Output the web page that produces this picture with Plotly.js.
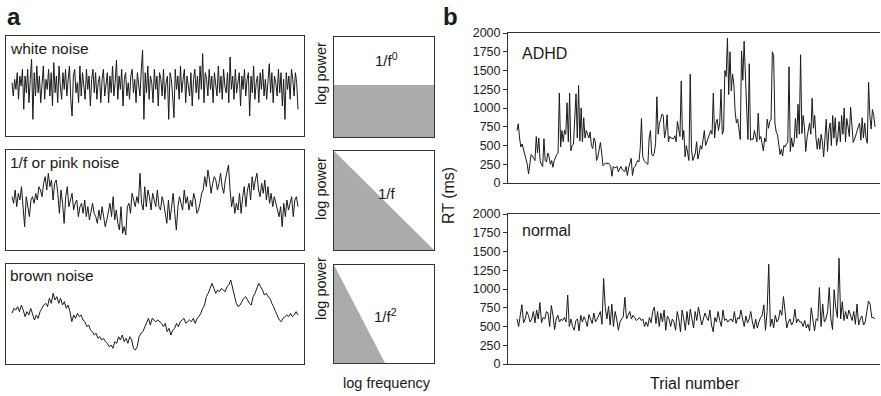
<!DOCTYPE html>
<html><head><meta charset="utf-8">
<script src="https://cdn.plot.ly/plotly-3.0.1.min.js"></script>
<style>html,body{margin:0;padding:0;background:#fff}#chart{width:881px;height:396px}</style>
</head><body><div id="chart"></div>
<script>
// ---------- data ----------
const whiteNoise = [1,-3,2,-1,4,-4,3,0,5,-7, 3,-2,5,-5,2,8,-10,4,-3,6, -2,3,-5,1,6,-4,2,-1,5,-3,
  4,-6,7,-2,3,-5,6,0,-4,4, -1,5,-3,2,6,-4,-9,3,5,-2, 1,-5,6,-3,4,0,-4,5,-1,3, -6,2,5,-2,4,-4,1,3,-5,2,
  5,-3,0,4,-5,3,-2,6,-3,1, 7.7,-4,3,-1,5,-6,2,4,-3,1, -4,3,5,-2,2,-5,4,0,-3,5, 10.7,-10,4,-2,6,-4,3,1,-5,5,
  -1,3,-6,4,2,-3,5,-4,1,3, -10,4,2,-3,-9.5,5,-1,3,-4,6, -2,2,5,-5,3,0,-3,4,-6,2, 5,-2,3,-4,6,-1,9.7,-5,4,2,
  -3,5,-1,3,-5,4,1,-3,6,-2, 3,-4,5,0,-2,4,-5,8.7,-1,3, -4,5,-2,2,4,-6,3,-1,5,-3, 2,4,-9,3,-2,6,-4,1,3,-5,
  4,-1,5,-3,2,-4,3,6.7,-2,4, -5,3,1,-3,5,-2,4,-6,2,-10, 4,-1,3,-4,5,2,-3,4,1,-7];
const pinkNoise = [1,-1,3,-2,2,0,4,-3,-8,1,-2,-5,0,1,-1,2,0,4,3,1,5,7,3,8,4,6,0,5,6,2,-4,3,-1,-7,1,4,-2,0,2,-3,
  -1,0,-5,-2,-1,-4,0,-5,-2,-6,-3,-1,-4,-5,-7,-3,-6,-2,-5,-8,-6,-3,-1,-5,1,-6,-3,-7,-9,-2,-10,-8,-10.5,-2,-1,-4,2,0,-2,1,
  -1,8,-1,-3,4,-2,3,1,-3,2,0,-2,3,-2,-3,1,-1,-4,-7,0,-6,-2,2,-4,-9,-2,1,-1,-3,3,-1,1,-3,0,-2,2,0,-4,-3,-1,
  2,3,7,4,9,6,2,5,7,6,3,5,8,4,2,6,8,10.5,3,-2,1,-4,-1,-3,2,-4,1,4,-2,3,5,0,7,3,6,8,3,1,5,2,
  6,0,4,-1,2,-2,1,-1,-3,-5,-2,-8,-1,-5,0,-3,-1,1,-5,0,1,-2];
const brownNoise = [0.2,1.7,1.2,2.2,0.7,2.7,1.2,-0.8,0.7,-0.3,1.7,0.2,-1.8,-0.3,-1.3,0.7,1.7,2.7,3.2,2.2,
  4.7,3.2,6.2,4.2,5.2,3.2,4.7,2.7,3.7,1.7,2.7,0.7,-2.3,-0.3,-1.3,0.2,-0.8,-0.3,-1.8,-2.3,
  -3.8,-3.3,-4.8,-5.3,-6.3,-5.8,-7.3,-6.8,-7.8,-7.3,-8.3,-8.8,-9.8,-9.3,-10.3,-8.3,-8.8,-6.8,-7.8,-6.3,
  -8.3,-7.3,-8.8,-6.8,-7.8,-10.3,-10.8,-9.8,-6.8,-5.8,-5.3,-3.8,-2.8,-1.3,-3.3,-1.3,-1.8,-2.3,-1.8,-2.3,
  -2.8,-3.8,-2.8,-5.3,-4.3,-6.3,-4.8,-4.3,-2.8,-3.8,-2.3,-1.8,-1.3,-2.8,-2.3,-1.8,-2.3,-1.3,-2.8,-1.3,
  -0.8,0.2,1.7,2.7,5.2,6.2,7.7,9.2,7.7,6.2,7.2,6.7,7.7,7.2,6.7,8.2,8.7,10.2,7.7,6.2,
  3.2,2.2,2.7,3.7,4.7,5.2,4.2,3.2,2.7,5.2,6.2,7.7,9.2,8.2,7.2,5.7,6.2,5.2,4.7,3.2,
  2.2,0.7,-0.8,-1.8,-2.3,-1.3,-0.8,-0.3,-0.8,0.2,-0.8,-0.3,0.7,-0.3];
const spectrumX = [0, 1];
const whiteSpectrum = [0.52, 0.52];
const pinkSpectrum = [1, 0];
const brownSpectrumX = [0, 0.51];
const brownSpectrum = [1, 0];
const adhdRT = [700,790,600,480,520,450,380,300,250,120,250,380,360,320,300,620,400,600,300,250,220,590,300,280,400,350,250,300,210,300,
  350,380,400,1200,480,700,550,700,650,1070,550,1200,430,500,520,800,1190,600,1300,560,1000,550,870,600,700,650,600,680,500,460,
  600,550,300,350,450,540,400,230,250,270,250,270,250,220,90,220,200,210,220,150,200,220,180,170,150,220,100,200,250,330,
  100,200,220,260,300,280,450,860,350,300,270,260,250,600,700,380,360,400,530,1150,650,800,850,920,900,600,700,910,550,620,
  600,600,590,630,550,820,700,620,1360,580,700,350,500,400,300,1450,450,300,350,400,550,320,400,500,450,600,700,500,550,600,
  650,700,650,1200,600,800,850,700,800,1250,650,700,1500,1420,1930,1180,1750,1230,1450,1320,950,800,850,700,580,1760,1370,1890,1300,1000,
  580,1590,570,590,580,700,620,550,930,580,620,500,430,600,550,850,730,820,850,1750,1700,800,680,650,500,380,450,360,500,480,
  520,540,1550,420,600,480,550,860,600,1050,650,1710,660,900,750,420,600,700,800,650,1130,730,900,600,450,600,450,650,550,350,
  600,850,420,700,800,500,900,600,870,500,600,820,550,900,650,1000,550,860,750,620,1010,700,540,580,650,700,750,800,570,870,
  600,800,600,530,1340,900,720,980,900,750];
const normalRT = [600,500,650,790,550,600,700,650,560,600,700,550,720,600,820,550,620,600,700,680,500,780,650,460,600,650,560,600,580,620,
  560,920,500,600,500,450,580,600,440,650,560,630,580,500,660,600,540,680,560,600,650,700,530,1140,750,600,770,520,800,500,
  700,600,450,560,600,630,890,600,650,700,600,650,620,580,600,620,580,600,500,560,500,620,550,700,760,540,700,500,680,560,
  720,450,640,600,500,600,560,450,700,600,430,720,600,450,700,520,730,600,480,700,580,760,650,520,600,680,620,580,720,520,
  430,620,560,700,580,500,720,580,600,560,590,600,560,700,540,620,600,720,600,500,640,550,600,700,560,470,600,480,560,620,
  650,790,450,700,1330,500,600,480,650,560,600,720,650,900,700,480,560,600,520,560,730,550,600,560,560,500,580,480,530,440,
  750,560,440,600,580,1020,500,800,560,600,700,1020,600,460,990,750,620,1410,600,830,580,700,600,720,650,580,700,530,800,520,
  600,640,520,560,700,840,800,620,620,600];
const rtTicks = [0,250,500,750,1000,1250,1500,1750,2000];
const noiseLabels = ['white noise', '1/f or pink noise', 'brown noise'];
const spectrumLabels = ['1/f<sup>0</sup>', '1/f', '1/f<sup>2</sup>'];
const panelLabels = ['a', 'b'];
const groupLabels = ['ADHD', 'normal'];

// ---------- layout helpers ----------
const W = 881, H = 396;
const px = v => v / W;
const py = v => 1 - v / H;
const FONT = 'Liberation Sans, Arial, Helvetica, sans-serif';
const idx = a => a.map((_, i) => i);
const padRange = (n, l, r, span) => [-(n - 1) * l / span, (n - 1) * (1 + r / span)];

const lineC = '#1a1a1a';
const traces = [];
const noises = [whiteNoise, pinkNoise, brownNoise];
noises.forEach((d, k) => {
  traces.push({x: idx(d), y: d, type: 'scatter', mode: 'lines', line: {color: lineC, width: 1},
    xaxis: 'x' + (k + 1), yaxis: 'y' + (k + 1), hoverinfo: 'skip'});
});
const specs = [[spectrumX, whiteSpectrum], [spectrumX, pinkSpectrum], [brownSpectrumX, brownSpectrum]];
specs.forEach((s, k) => {
  traces.push({x: s[0], y: s[1], type: 'scatter', mode: 'lines', fill: 'tozeroy', fillcolor: '#ababab',
    line: {color: '#ababab', width: 0}, xaxis: 'x' + (k + 4), yaxis: 'y' + (k + 4), hoverinfo: 'skip'});
});
traces.push({x: idx(adhdRT), y: adhdRT, type: 'scatter', mode: 'lines', line: {color: lineC, width: 1},
  xaxis: 'x7', yaxis: 'y7'});
traces.push({x: idx(normalRT), y: normalRT, type: 'scatter', mode: 'lines', line: {color: lineC, width: 1},
  xaxis: 'x8', yaxis: 'y8'});

const boxAxis = (domain, range) => ({domain, range, showline: true, mirror: true, linecolor: '#333', linewidth: 1,
  showgrid: false, zeroline: false, ticks: '', showticklabels: false, fixedrange: true});

const layout = {
  width: W, height: H, margin: {l: 0, r: 0, t: 0, b: 0}, showlegend: false,
  paper_bgcolor: '#fff', plot_bgcolor: '#fff', font: {family: FONT, color: '#222'},
  annotations: [], shapes: []
};
const noiseRows = [[36, 136], [150, 250], [264, 364]];
const specRows = [[37, 137], [151, 250], [265, 363]];
noises.forEach((d, k) => {
  layout['xaxis' + (k + 1)] = boxAxis([px(6), px(304)], padRange(d.length, 6, 6, 286));
  layout['yaxis' + (k + 1)] = boxAxis([py(noiseRows[k][1]), py(noiseRows[k][0])], [-15, 15]);
  layout['xaxis' + (k + 1)].anchor = 'y' + (k + 1);
  layout['yaxis' + (k + 1)].anchor = 'x' + (k + 1);
});
for (let k = 0; k < 3; k++) {
  const n = k + 4;
  layout['xaxis' + n] = boxAxis([px(334), px(434)], [0, 1]);
  layout['yaxis' + n] = boxAxis([py(specRows[k][1]), py(specRows[k][0])], [0, 1]);
  layout['xaxis' + n].anchor = 'y' + n;
  layout['yaxis' + n].anchor = 'x' + n;
}
const rtRows = [[33, 183], [214, 364]];
[adhdRT, normalRT].forEach((d, k) => {
  const n = k + 7;
  layout['xaxis' + n] = {domain: [px(508), px(880)], range: padRange(d.length, 9, 5, 358), anchor: 'y' + n,
    showline: true, mirror: true, linecolor: '#333', linewidth: 1.2, showgrid: false, zeroline: false,
    ticks: '', showticklabels: false, fixedrange: true};
  layout['yaxis' + n] = {domain: [py(rtRows[k][1]), py(rtRows[k][0])], range: [0, 2000], anchor: 'x' + n,
    showline: true, linecolor: '#333', linewidth: 1, showgrid: false, zeroline: false,
    ticks: 'outside', ticklen: 4, tickcolor: '#333', tickvals: rtTicks, ticktext: rtTicks.map(String),
    tickfont: {size: 12.5, family: FONT, color: '#222'}, fixedrange: true};
});

const ann = (text, x, y, size, opts = {}) => Object.assign({text, x: px(x), y: py(y), xref: 'paper', yref: 'paper',
  showarrow: false, font: {family: FONT, size, color: '#1a1a1a'}, xanchor: 'left', yanchor: 'middle'}, opts);

layout.annotations.push(ann('<b>' + panelLabels[0] + '</b>', 5, 16, 24));
layout.annotations.push(ann('<b>' + panelLabels[1] + '</b>', 441, 16, 24));
const noiseLabelY = [48.8, 162.6, 275.5];
noiseLabels.forEach((t, k) => layout.annotations.push(ann(t, 8, noiseLabelY[k], 15.5)));
const specLabelY = [60, 194, 315];
const specLabelX = [386, 387, 385];
spectrumLabels.forEach((t, k) => layout.annotations.push(ann(t, specLabelX[k], specLabelY[k], 15, {xanchor: 'center'})));
const logPowY = [74, 189, 289];
logPowY.forEach(y => layout.annotations.push(ann('log power', 321, y, 14.5, {xanchor: 'center', textangle: -90})));
layout.annotations.push(ann('log frequency', 387, 383, 14.5, {xanchor: 'center'}));
layout.annotations.push(ann(groupLabels[0], 520, 53.7, 16));
layout.annotations.push(ann(groupLabels[1], 520, 230.4, 16));
layout.annotations.push(ann('RT (ms)', 448, 196, 16, {xanchor: 'center', textangle: -90}));
layout.annotations.push(ann('Trial number', 695, 383, 16, {xanchor: 'center'}));

Plotly.newPlot('chart', traces, layout, {staticPlot: true, displayModeBar: false});
</script></body></html>
